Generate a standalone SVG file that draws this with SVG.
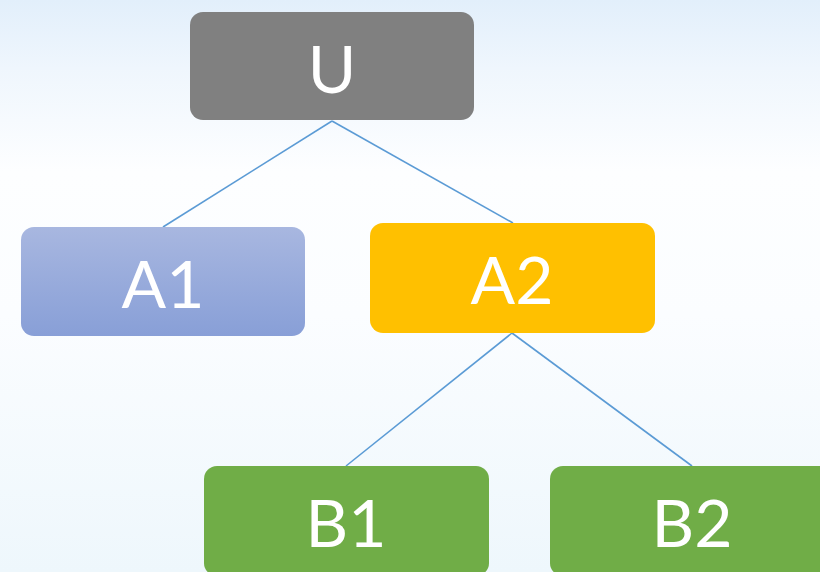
<svg xmlns="http://www.w3.org/2000/svg" width="820" height="572" viewBox="0 0 820 572">
  <defs>
    <linearGradient id="bg" x1="0" y1="0" x2="0" y2="1">
      <stop offset="0" stop-color="#e2effb"/>
      <stop offset="0.12" stop-color="#eff6fd"/>
      <stop offset="0.3" stop-color="#fdfeff"/>
      <stop offset="0.55" stop-color="#fbfdff"/>
      <stop offset="1" stop-color="#eef7fc"/>
    </linearGradient>
    <linearGradient id="blueFill" x1="0" y1="0" x2="0" y2="1">
      <stop offset="0" stop-color="#a8b7e0"/>
      <stop offset="1" stop-color="#889fd7"/>
    </linearGradient>
    <style>
      .box text { font-family: "Lato", "Liberation Sans", sans-serif; font-size: 66px; fill: #ffffff; text-anchor: middle; }
      .edges line { stroke: #5b9bd5; stroke-width: 1.6; }
    </style>
  </defs>

  <rect x="0" y="0" width="820" height="572" fill="url(#bg)"/>

  <g id="edges" class="edges">
    <line x1="332" y1="121" x2="163" y2="227"/>
    <line x1="332" y1="121" x2="513" y2="223"/>
    <line x1="512" y1="333" x2="346" y2="466"/>
    <line x1="512" y1="333" x2="692" y2="466"/>
  </g>

  <g id="node-U" class="box">
    <rect x="190" y="12" width="284" height="108" rx="13" fill="#808080"/>
    <text x="332" y="93">U</text>
  </g>

  <g id="node-A1" class="box">
    <rect x="21" y="227" width="284" height="109" rx="13" fill="url(#blueFill)"/>
    <text x="163" y="308">A1</text>
  </g>

  <g id="node-A2" class="box">
    <rect x="370" y="223" width="285" height="110" rx="13" fill="#ffc000"/>
    <text x="512" y="304">A2</text>
  </g>

  <g id="node-B1" class="box">
    <rect x="204" y="466" width="285" height="110" rx="13" fill="#70ad47"/>
    <text x="346" y="547">B1</text>
  </g>

  <g id="node-B2" class="box">
    <rect x="550" y="466" width="285" height="110" rx="13" fill="#70ad47"/>
    <text x="692" y="547">B2</text>
  </g>
</svg>
